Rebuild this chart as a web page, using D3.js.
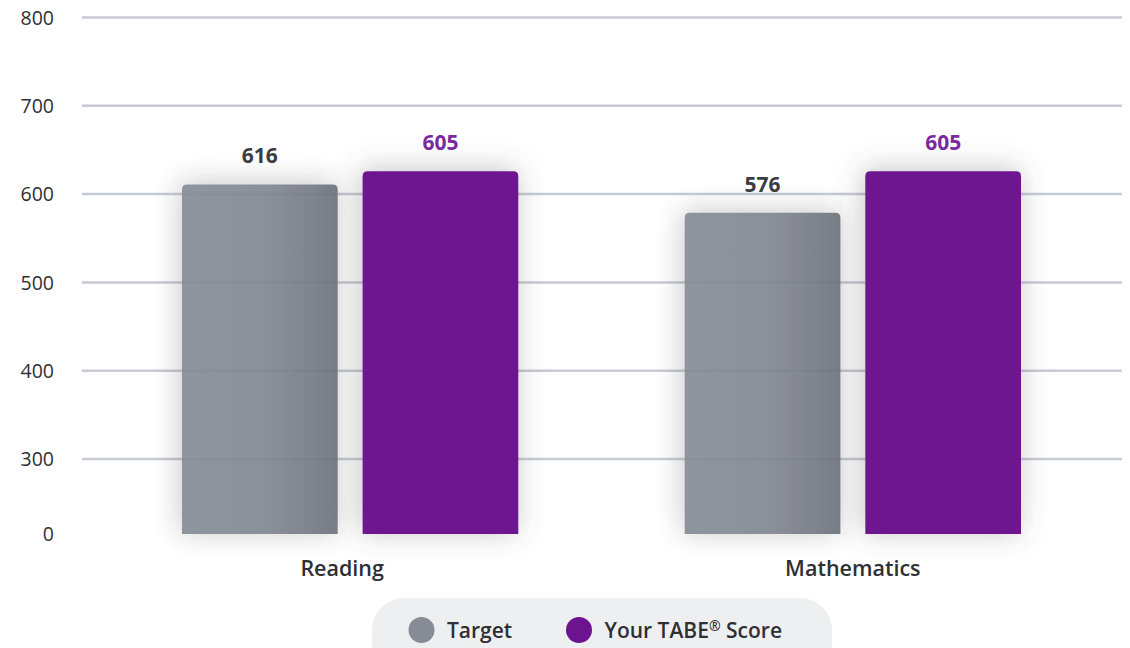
<!DOCTYPE html>
<html lang="en">
<head>
	<meta charset="utf-8"/>
	<title>TABE scores</title>
	<script src="https://d3js.org/d3.v7.min.js"></script>
	<style>
		body { margin: 0; background: #fff; }
		svg { display: block; font-family: "Open Sans", Lato, sans-serif; }
		.axis { font-family: "Open Sans", Lato, sans-serif; }
		.tick text { fill: #2e3035; font-size: 19.5px; }
		.cat { fill: #2e3035; font-size: 21.5px; font-weight: 600; }
		.val { font-size: 21px; font-weight: 700; }
		.legend text { fill: #2e3035; font-size: 21px; font-weight: 600; }
	</style>
</head>
<body>
<div id="chart"></div>

<script>
	// data
	var subjects = ["Reading", "Mathematics"];
	var seriesNames = ["Target", "Your TABE\u00AE Score"];
	var targetScores = [616, 576];      // printed labels
	var yourScores = [605, 605];
	var targetBars = [611, 579];        // bar heights as drawn
	var yourBars = [626, 626];
	var tickValues = [0, 300, 400, 500, 600, 700, 800];

	var width = 1130,
		height = 648;

	var svg = d3.select("#chart").append("svg")
		.attr("width", width)
		.attr("height", height);

	var defs = svg.append("defs");

	var grad = defs.append("linearGradient")
		.attr("id", "grayGrad")
		.attr("x1", "0%").attr("x2", "100%");
	grad.append("stop").attr("offset", "0%").attr("stop-color", "#878d98");
	grad.append("stop").attr("offset", "55%").attr("stop-color", "#828893");
	grad.append("stop").attr("offset", "100%").attr("stop-color", "#6e737e");

	var shadow = defs.append("filter")
		.attr("id", "glow")
		.attr("x", "-40%").attr("y", "-40%")
		.attr("width", "180%").attr("height", "180%");
	shadow.append("feDropShadow")
		.attr("dx", -2).attr("dy", -2)
		.attr("stdDeviation", 14)
		.attr("flood-color", "#555")
		.attr("flood-opacity", 0.35);

	// broken y axis: 0..300 squeezed, 300..800 linear
	var y = d3.scaleLinear()
		.domain([0, 300, 800])
		.range([534, 459, 17.5]);

	var x0 = d3.scaleBand()
		.domain(subjects)
		.range([182, 1021])
		.paddingInner(0.331)
		.paddingOuter(0);

	var x1 = d3.scaleBand()
		.domain(["target", "yours"])
		.range([0, x0.bandwidth()])
		.paddingInner(0.138);

	// gridlines
	svg.append("g")
		.attr("class", "grid")
		.selectAll("line")
		.data(tickValues.filter(function(d) { return d > 0; }))
		.enter().append("line")
			.attr("x1", 82)
			.attr("x2", 1122)
			.attr("y1", function(d) { return y(d); })
			.attr("y2", function(d) { return y(d); })
			.attr("stroke", "#c6cad2")
			.attr("stroke-width", 2.5);

	// y labels
	svg.append("g")
		.attr("class", "axis")
		.attr("transform", "translate(54,0)")
		.call(d3.axisLeft(y).tickValues(tickValues).tickSize(0).tickPadding(0))
		.call(function(g) { g.select(".domain").remove(); })
		.attr("font-family", null)
		.attr("font-size", null)
		.selectAll("text")
			.attr("dy", "0.35em");

	var rows = subjects.map(function(s, i) {
		return [
			{ key: "target", subject: s, bar: targetBars[i], label: targetScores[i] },
			{ key: "yours", subject: s, bar: yourBars[i], label: yourScores[i] }
		];
	});

	var groups = svg.append("g")
		.selectAll("g")
		.data(rows)
		.enter().append("g")
			.attr("transform", function(d) { return "translate(" + x0(d[0].subject) + ",0)"; });

	function topRounded(x, yTop, w, yBot, r) {
		return "M" + x + "," + yBot +
			"V" + (yTop + r) +
			"Q" + x + "," + yTop + " " + (x + r) + "," + yTop +
			"H" + (x + w - r) +
			"Q" + (x + w) + "," + yTop + " " + (x + w) + "," + (yTop + r) +
			"V" + yBot + "Z";
	}

	groups.selectAll("path")
		.data(function(d) { return d; })
		.enter().append("path")
			.attr("d", function(d) {
				return topRounded(x1(d.key), y(d.bar), x1.bandwidth(), y(0), 5);
			})
			.attr("fill", function(d) { return d.key == "target" ? "url(#grayGrad)" : "#6d138f"; })
			.attr("opacity", function(d) { return d.key == "target" ? 0.93 : 1; })
			.attr("filter", "url(#glow)");

	groups.selectAll("text.val")
		.data(function(d) { return d; })
		.enter().append("text")
			.attr("class", "val")
			.attr("x", function(d) { return x1(d.key) + x1.bandwidth() / 2; })
			.attr("y", function(d) { return y(d.bar) - 21; })
			.attr("text-anchor", "middle")
			.attr("fill", function(d) { return d.key == "target" ? "#3a3d44" : "#7a2a9e"; })
			.text(function(d) { return d.label; });

	svg.append("g")
		.selectAll("text")
		.data(subjects)
		.enter().append("text")
			.attr("class", "cat")
			.attr("x", function(d) { return x0(d) + x0.bandwidth() / 2 - (d == "Reading" ? 8 : 0); })
			.attr("y", 576)
			.attr("text-anchor", "middle")
			.text(function(d) { return d; });

	// legend
	var legend = svg.append("g").attr("class", "legend");

	legend.append("rect")
		.attr("x", 372)
		.attr("y", 598)
		.attr("width", 460)
		.attr("height", 80)
		.attr("rx", 32)
		.attr("fill", "#eeeff1");

	var items = legend.selectAll("g")
		.data(seriesNames)
		.enter().append("g")
			.attr("transform", function(d, i) { return "translate(" + (i ? 579 : 421.5) + ",630)"; });

	items.append("circle")
		.attr("r", 13)
		.attr("fill", function(d, i) { return i ? "#6d138f" : "#868b95"; });

	// superscript the registered mark
	items.append("text")
		.attr("x", 25.5)
		.attr("y", 7.5)
		.each(function(d) {
			var parts = d.split("\u00AE");
			var t = d3.select(this);
			t.append("tspan").text(parts[0]);
			if (parts.length > 1) {
				t.append("tspan")
					.attr("font-size", "14px")
					.attr("dy", -7)
					.text("\u00AE");
				t.append("tspan")
					.attr("dy", 7)
					.text(parts[1]);
			}
		});
</script>
</body>
</html>
